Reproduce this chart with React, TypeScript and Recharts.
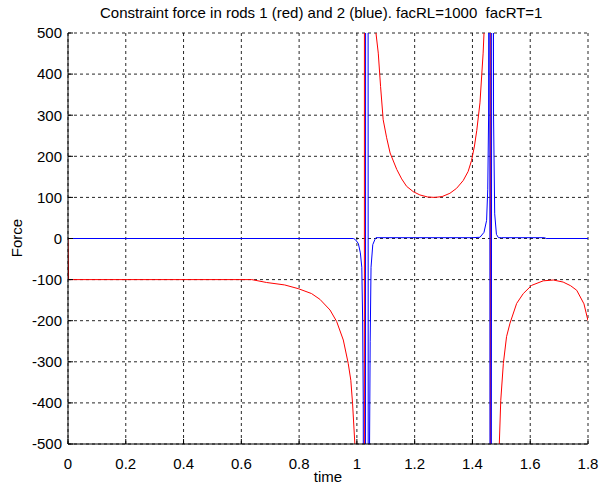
import React from 'react';
import { LineChart, Line, XAxis, YAxis, CartesianGrid } from 'recharts';

// [time, force]; values far outside +-500 stand in for the spikes
const rod1Force: [number, number][] = [
  [0, 0], [0.002, -100], [0.3, -100], [0.636, -100], [0.687, -107], [0.75, -113],
  [0.797, -122], [0.843, -134], [0.872, -148], [0.907, -174], [0.93, -202],
  [0.953, -247], [0.97, -304], [0.979, -345], [0.985, -401], [0.993, -500],
  [1.0, -1200], [1.015, -3000], [1.025, -5000], [1.027, 5000], [1.045, 2000],
  [1.058, 900], [1.066, 500], [1.074, 451], [1.082, 370], [1.091, 289],
  [1.103, 245], [1.115, 208], [1.138, 168], [1.155, 145], [1.172, 127],
  [1.195, 114], [1.218, 106], [1.245, 101], [1.27, 100], [1.295, 102],
  [1.322, 110], [1.345, 122], [1.368, 141], [1.385, 163], [1.397, 190],
  [1.407, 225], [1.415, 263], [1.426, 330], [1.437, 451], [1.44, 500],
  [1.45, 1200], [1.458, 3000], [1.461, 5000], [1.463, -5000], [1.47, -3000],
  [1.48, -1500], [1.488, -800], [1.493, -500], [1.498, -394], [1.507, -304],
  [1.518, -239], [1.53, -206], [1.553, -158], [1.576, -134], [1.605, -114],
  [1.645, -103], [1.68, -101], [1.714, -106], [1.74, -115], [1.761, -126],
  [1.786, -159], [1.8, -200],
];

const rod2Force: [number, number][] = [
  [0, 0], [0.988, 0], [0.995, -3], [1.005, -12], [1.012, -35], [1.017, -70],
  [1.02, -200], [1.022, -394], [1.025, -2000], [1.029, -4000], [1.031, 4000],
  [1.038, 4000], [1.04, -4000], [1.043, -600], [1.046, -250], [1.049, -70],
  [1.055, -15], [1.062, -3], [1.066, 2], [1.2, 2], [1.4, 2], [1.426, 3],
  [1.44, 15], [1.449, 44], [1.453, 120], [1.456, 300], [1.459, 3000],
  [1.4625, -4000], [1.4695, 4000], [1.473, 300], [1.477, 60], [1.483, 10],
  [1.49, 2], [1.5, 2], [1.65, 2], [1.655, 0], [1.8, 0],
];

const timeTicks = [0, 0.2, 0.4, 0.6, 0.8, 1, 1.2, 1.4, 1.6, 1.8];
const forceTicks = [-500, -400, -300, -200, -100, 0, 100, 200, 300, 400, 500];

const title = 'Constraint force in rods 1 (red) and 2 (blue). facRL=1000  facRT=1';

const font = '"Liberation Sans", Arial, sans-serif';

export default function App() {
  const red = rod1Force.map(([t, f]) => ({ t, f }));
  const blue = rod2Force.map(([t, f]) => ({ t, f }));
  const tickStyle = { fill: '#000', fontSize: 15, fontFamily: font };

  return (
    <div style={{ position: 'absolute', left: 0, top: 0, width: 608, height: 488, background: '#fff', fontFamily: font }}>
      <div style={{ position: 'absolute', left: 100, top: 4, fontSize: 15, whiteSpace: 'pre' }}>
        {title}
      </div>
      <div style={{ position: 'absolute', left: 68, width: 520, top: 468, textAlign: 'center', fontSize: 15 }}>time</div>
      <div
        style={{
          position: 'absolute', left: 16, top: 238, fontSize: 15,
          transform: 'translate(-50%, -50%) rotate(-90deg)',
        }}
      >
        Force
      </div>
      <LineChart width={608} height={488} margin={{ top: 33, right: 20, bottom: 0, left: 8 }}>
        <CartesianGrid stroke="#000" strokeDasharray="3 3" strokeOpacity={0.85} />
        <XAxis
          dataKey="t" type="number" domain={[0, 1.8]} ticks={timeTicks}
          allowDataOverflow height={44} stroke="#000" tick={tickStyle}
          tickSize={-5} tickMargin={19}
        />
        <XAxis
          xAxisId="top" orientation="top" dataKey="t" type="number" domain={[0, 1.8]}
          ticks={timeTicks} height={0} stroke="#000" tickSize={-5} tickFormatter={() => ''}
        />
        <YAxis
          type="number" domain={[-500, 500]} ticks={forceTicks} allowDataOverflow
          width={60} stroke="#000" tick={tickStyle} tickSize={-5} tickMargin={11}
        />
        <YAxis
          yAxisId="right" orientation="right" type="number" domain={[-500, 500]}
          ticks={forceTicks} width={0} stroke="#000" tickSize={-5} tickFormatter={() => ''}
        />
        <Line data={red} dataKey="f" stroke="#ff0000" strokeWidth={1} dot={false} isAnimationActive={false} />
        <Line data={blue} dataKey="f" stroke="#0000ff" strokeWidth={1} dot={false} isAnimationActive={false} />
      </LineChart>
    </div>
  );
}
